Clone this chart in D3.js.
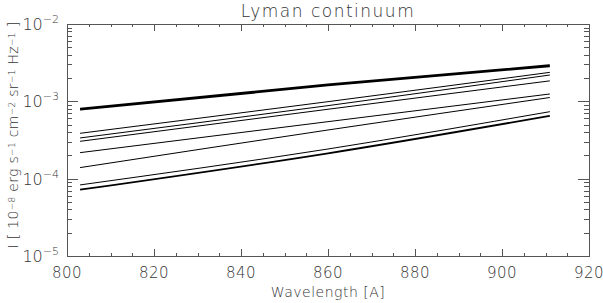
<!DOCTYPE html>
<html>
<head>
<meta charset="utf-8">
<script src="https://cdn.jsdelivr.net/npm/d3@7"></script>
<style>
  body { margin: 0; background: #fff; }
  text { font-family: "DejaVu Sans", sans-serif; font-weight: 200; fill: #333; }
</style>
</head>
<body>
<svg id="chart"></svg>
<script>
const wavelengths = [803, 860, 911];

// Intensity curves, top to bottom
const curveTop = [7.9e-4, 1.63e-3, 2.89e-3];
const curve2 = [3.86e-4, 9.9e-4, 2.37e-3];
const curve3 = [3.36e-4, 8.8e-4, 2.19e-3];
const curve4 = [3.04e-4, 7.9e-4, 1.84e-3];
const curve5 = [2.17e-4, 5.46e-4, 1.245e-3];
const curve6 = [1.39e-4, 4.26e-4, 1.12e-3];
const curve7 = [8.3e-5, 2.42e-4, 7.35e-4];
const curveBottom = [7.2e-5, 2.13e-4, 6.5e-4];

const xTicks = [800, 820, 840, 860, 880, 900, 920];
const yTickExps = [-5, -4, -3, -2];

const curves = [
  {values: curveTop, width: 2.8},
  {values: curve2, width: 1},
  {values: curve3, width: 1},
  {values: curve4, width: 1},
  {values: curve5, width: 1},
  {values: curve6, width: 1},
  {values: curve7, width: 1},
  {values: curveBottom, width: 1.8}
];

const W = 603, H = 303;
const margin = {top: 24, right: 14, bottom: 47, left: 67};
const width = W - margin.left - margin.right;
const height = H - margin.top - margin.bottom;

const svg = d3.select('#chart').attr('width', W).attr('height', H);
const chart = svg.append('g').attr('transform', `translate(${margin.left},${margin.top})`);

const xScale = d3.scaleLinear().domain([800, 920]).range([0, width]);
const yScale = d3.scaleLog().domain([1e-5, 1e-2]).range([height, 0]);

const axisColor = '#555';

// frame
chart.append('rect')
    .attr('x', 0.5).attr('y', 0.5)
    .attr('width', width)
    .attr('height', height)
    .attr('fill', 'none')
    .attr('stroke', axisColor)
    .attr('stroke-width', 1);

// x ticks (major every 20, minor every 5) on bottom and top
const xMinor = d3.range(800, 921, 5);
xMinor.forEach(v => {
  const major = v % 20 === 0;
  const len = major ? 7 : 3;
  const x = Math.round(xScale(v)) + 0.5;
  chart.append('line').attr('x1', x).attr('x2', x).attr('y1', height).attr('y2', height - len)
      .attr('stroke', axisColor);
  chart.append('line').attr('x1', x).attr('x2', x).attr('y1', 0).attr('y2', len)
      .attr('stroke', axisColor);
});

// y ticks (decades major, 2..9 minor) on left and right
yTickExps.forEach(e => {
  for (let m = 1; m <= 9; m++) {
    const v = m * Math.pow(10, e);
    if (v > 1e-2 + 1e-12) continue;
    const major = m === 1;
    const len = major ? 11 : 5;
    const y = Math.round(yScale(v)) + 0.5;
    chart.append('line').attr('x1', 0).attr('x2', len).attr('y1', y).attr('y2', y)
        .attr('stroke', axisColor);
    chart.append('line').attr('x1', width).attr('x2', width - len).attr('y1', y).attr('y2', y)
        .attr('stroke', axisColor);
  }
});

// x tick labels
chart.selectAll('.xlabel')
  .data(xTicks)
  .enter().append('text')
    .attr('class', 'xlabel')
    .attr('x', d => xScale(d))
    .attr('y', height + 22)
    .attr('text-anchor', 'middle')
    .style('font-size', '15px')
    .style('letter-spacing', '0.5px')
    .text(d => d);

// y tick labels: 10^e
yTickExps.forEach(e => {
  const t = chart.append('text')
      .attr('x', -8)
      .attr('y', yScale(Math.pow(10, e)) + 6)
      .attr('text-anchor', 'end')
      .style('font-size', '16px');
  t.append('tspan').text('10');
  t.append('tspan').attr('dy', -7).style('font-size', '11px').text('\u2212' + Math.abs(e));
});

// curves
const line = d3.line()
    .x(d => xScale(d[0]))
    .y(d => yScale(d[1]))
    .curve(d3.curveMonotoneX);

curves.forEach(c => {
  chart.append('path')
      .datum(wavelengths.map((w, i) => [w, c.values[i]]))
      .attr('d', line)
      .attr('fill', 'none')
      .attr('stroke', '#000')
      .attr('stroke-width', c.width);
});

// title
svg.append('text')
    .attr('x', margin.left + width / 2)
    .attr('y', 17)
    .attr('text-anchor', 'middle')
    .style('font-size', '17px')
    .style('letter-spacing', '1.5px')
    .text('Lyman continuum');

// x axis title
svg.append('text')
    .attr('x', margin.left + width / 2)
    .attr('y', 297)
    .attr('text-anchor', 'middle')
    .style('font-size', '14px')
    .style('letter-spacing', '0.5px')
    .text('Wavelength [A]');

// y axis title with superscripts
const yt = svg.append('text')
    .attr('transform', `translate(18,${margin.top + height / 2 - 5}) rotate(-90)`)
    .attr('text-anchor', 'middle')
    .style('font-size', '14px')
    .style('letter-spacing', '0.3px');
const parts = [
  ['I [ 10', null], ['\u22128', 'sup'], [' erg s', null], ['\u22121', 'sup'],
  [' cm', null], ['\u22122', 'sup'], [' sr', null], ['\u22121', 'sup'],
  [' Hz', null], ['\u22121', 'sup'], [' ]', null]
];
parts.forEach(([txt, kind]) => {
  const sp = yt.append('tspan').text(txt);
  if (kind === 'sup') sp.attr('baseline-shift', '35%').style('font-size', '9px');
});
</script>
</body>
</html>
